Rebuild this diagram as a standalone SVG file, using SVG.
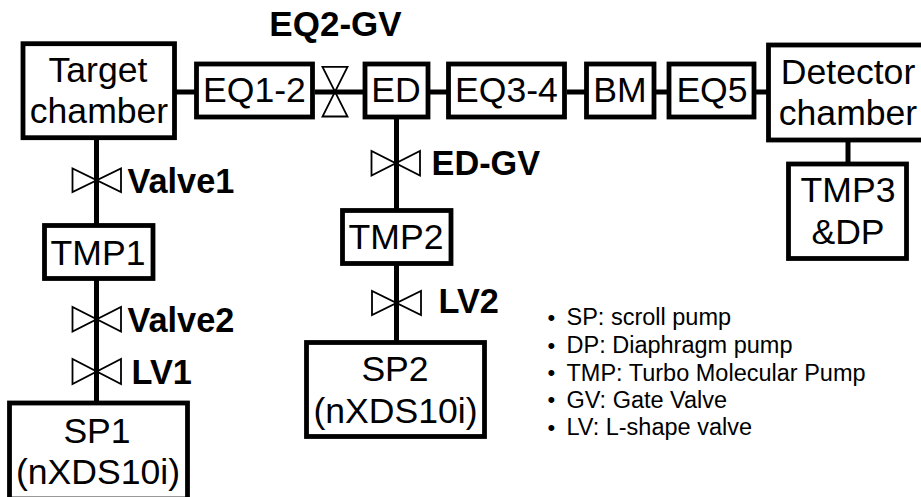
<svg xmlns="http://www.w3.org/2000/svg" width="921" height="497" viewBox="0 0 921 497">
<style>
text{font-family:"Liberation Sans",Arial,sans-serif;fill:#000;text-anchor:middle}
.box{fill:#fff;stroke:#000;stroke-width:4.8}
.n{font-size:35.600px}
.b{font-size:35px;font-weight:bold}
.ls{font-size:34.300px;font-weight:bold;text-anchor:start}
.l{font-size:23.500px;text-anchor:start}
.d{font-size:22px;text-anchor:start}
.con{stroke:#000;stroke-width:5;fill:none}
.v{fill:none;stroke:#000;stroke-width:1.800}
</style>
<rect width="921" height="497" fill="#fff"/>
<g id="connectors">
<path class="con" d="M176 92H195M315 92H363M430 92H447M567 92H585M656 92H668M756 92H767M96.500 140V224M96.500 280V402M396.500 118V209M396.500 265V341M848 141V162"/>
</g>
<g id="valves">
<path id="valve-eq2" class="v" d="M322.500 66.800H347.500L322.500 116.500H347.500Z"/>
<path id="valve-1" class="v" d="M72.500 168.500V192L121 168.500V192Z"/>
<path id="valve-2" class="v" d="M72.500 307V331.500L121 307V331.500Z"/>
<path id="valve-lv1" class="v" d="M72.500 359V384L121 359V384Z"/>
<path id="valve-ed" class="v" d="M371.500 151V175.500L420 151V175.500Z"/>
<path id="valve-lv2" class="v" d="M372 291V315L421 291V315Z"/>
</g>
<g id="target"><rect class="box" x="23" y="43.700" width="151.500" height="94"/><text class="n" x="98" y="81.500">Target</text><text class="n" x="99" y="123">chamber</text></g>
<g id="eq12"><rect class="box" x="196.500" y="64" width="116" height="53"/><text class="n" x="254.500" y="102">EQ1-2</text></g>
<g id="ed"><rect class="box" x="365" y="64" width="63" height="53"/><text class="n" x="396" y="102">ED</text></g>
<g id="eq34"><rect class="box" x="448.500" y="64" width="116" height="53"/><text class="n" x="506.500" y="102">EQ3-4</text></g>
<g id="bm"><rect class="box" x="586.500" y="64" width="67.500" height="53"/><text class="n" x="620" y="102">BM</text></g>
<g id="eq5"><rect class="box" x="669" y="64" width="85" height="53"/><text class="n" x="712" y="102">EQ5</text></g>
<g id="detector"><rect class="box" x="768.500" y="45" width="160" height="95"/><text class="n" x="848" y="83.500">Detector</text><text class="n" x="848" y="125">chamber</text></g>
<g id="tmp3"><rect class="box" x="788.500" y="164" width="118" height="94.500"/><text class="n" x="848" y="201.500">TMP3</text><text class="n" x="848" y="243.500">&amp;DP</text></g>
<g id="tmp1"><rect class="box" x="44.500" y="225.500" width="108.500" height="53"/><text class="n" x="98" y="264.500">TMP1</text></g>
<g id="tmp2"><rect class="box" x="342.500" y="210.500" width="108.500" height="53"/><text class="n" x="396" y="249">TMP2</text></g>
<g id="sp1"><rect class="box" x="9.500" y="403" width="178" height="96"/><text class="n" x="97" y="442.500">SP1</text><text class="n" x="98" y="483.500">(nXDS10i)</text></g>
<g id="sp2"><rect class="box" x="306.500" y="342.500" width="178" height="94"/><text class="n" x="395" y="380.500">SP2</text><text class="n" x="395.500" y="423">(nXDS10i)</text></g>
<g id="labels">
<text class="b" x="335.500" y="36">EQ2-GV</text>
<text class="ls" x="127.500" y="192.500">Valve1</text>
<text class="ls" x="127.500" y="331.500">Valve2</text>
<text class="ls" x="131.500" y="383.500">LV1</text>
<text class="ls" x="431.500" y="175">ED-GV</text>
<text class="ls" x="438.500" y="313">LV2</text>
</g>
<g id="legend">
<text class="d" x="547.500" y="324.500">•</text><text class="l" x="566.500" y="325">SP: scroll pump</text>
<text class="d" x="547.500" y="352.500">•</text><text class="l" x="566.500" y="353">DP: Diaphragm pump</text>
<text class="d" x="547.500" y="380">•</text><text class="l" x="566.500" y="380.500">TMP: Turbo Molecular Pump</text>
<text class="d" x="547.500" y="407">•</text><text class="l" x="566.500" y="407.500">GV: Gate Valve</text>
<text class="d" x="547.500" y="435">•</text><text class="l" x="566.500" y="435">LV: L-shape valve</text>
</g>
</svg>
